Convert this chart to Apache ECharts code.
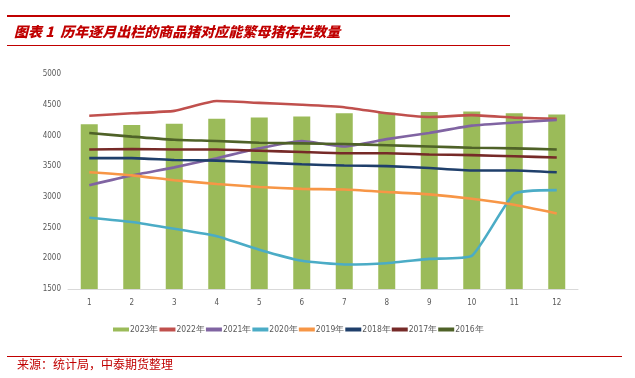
<!DOCTYPE html>
<html>
<head>
<meta charset="utf-8">
<script src="https://cdn.jsdelivr.net/npm/echarts@6/dist/echarts.min.js"></script>
<style>
  html, body { margin: 0; padding: 0; background: #fff; }
  #chart { width: 635px; height: 378px; }
</style>
</head>
<body>
<div id="chart"></div>
<script>
var months = ['1','2','3','4','5','6','7','8','9','10','11','12'];
var y2023 = [4180, 4170, 4190, 4270, 4290, 4310, 4360, 4370, 4380, 4390, 4360, 4340];
var y2022 = [4320, 4360, 4400, 4560, 4530, 4500, 4460, 4360, 4300, 4330, 4290, 4270];
var y2021 = [3190, 3350, 3480, 3630, 3790, 3910, 3820, 3940, 4040, 4160, 4210, 4250];
var y2020 = [2660, 2590, 2480, 2360, 2140, 1960, 1900, 1920, 1990, 2040, 3050, 3110];
var y2019 = [3400, 3350, 3270, 3210, 3160, 3130, 3120, 3080, 3040, 2970, 2870, 2730];
var y2018 = [3630, 3630, 3600, 3590, 3560, 3530, 3510, 3500, 3470, 3430, 3430, 3400];
var y2017 = [3770, 3780, 3770, 3770, 3750, 3730, 3710, 3710, 3690, 3680, 3660, 3640];
var y2016 = [4040, 3980, 3930, 3910, 3880, 3870, 3860, 3840, 3820, 3800, 3790, 3770];

var lineSeries = [
  ['2022年', y2022, '#C0504D'],
  ['2021年', y2021, '#8064A2'],
  ['2020年', y2020, '#4BACC6'],
  ['2019年', y2019, '#F79646'],
  ['2018年', y2018, '#1F3F6B'],
  ['2017年', y2017, '#762A28'],
  ['2016年', y2016, '#4F6228']
];

var chart = echarts.init(document.getElementById('chart'));
var axisFont = '"Liberation Sans Narrow", "DejaVu Sans Condensed", sans-serif';

var series = [{
  name: '2023年',
  type: 'bar',
  data: y2023,
  barWidth: 17,
  itemStyle: { color: '#9BBB59' },
  z: 1
}];
lineSeries.forEach(function (s) {
  series.push({
    name: s[0],
    type: 'line',
    data: s[1],
    smooth: 0.15,
    symbol: 'none',
    lineStyle: { color: s[2], width: 2.6 },
    itemStyle: { color: s[2] },
    z: 2
  });
});

var option = {
  backgroundColor: '#fff',
  animation: false,
  title: {
    text: '图表 1  历年逐月出栏的商品猪对应能繁母猪存栏数量',
    left: 14,
    top: 25,
    padding: 0,
    textStyle: {
      color: '#C00000',
      fontSize: 14,
      fontWeight: 900,
      fontStyle: 'italic',
      fontFamily: '"Noto Sans CJK SC", sans-serif'
    }
  },
  graphic: [
    { type: 'rect', shape: { x: 7, y: 15, width: 503, height: 2 }, style: { fill: '#C00000' } },
    { type: 'rect', shape: { x: 7, y: 45, width: 503, height: 1 }, style: { fill: '#C00000' } },
    { type: 'rect', shape: { x: 7, y: 356, width: 615, height: 1 }, style: { fill: '#C00000' } },
    {
      type: 'text', left: 17, top: 358,
      style: {
        text: '来源：统计局，中泰期货整理',
        fill: '#C00000',
        font: '12px "Noto Sans CJK SC", sans-serif'
      }
    }
  ],
  legend: {
    left: 113,
    top: 325,
    padding: 0,
    itemWidth: 16,
    itemHeight: 4,
    itemGap: 1,
    textStyle: { color: '#595959', fontSize: 8.5, fontFamily: axisFont, padding: [0, 0, 0, -4] },
    data: [
      { name: '2023年', icon: 'rect', itemHeight: 6 },
      { name: '2022年', icon: 'rect' },
      { name: '2021年', icon: 'rect' },
      { name: '2020年', icon: 'rect' },
      { name: '2019年', icon: 'rect' },
      { name: '2018年', icon: 'rect' },
      { name: '2017年', icon: 'rect' },
      { name: '2016年', icon: 'rect' }
    ]
  },
  grid: { left: 68, right: 57, top: 74, bottom: 89, containLabel: false },
  xAxis: {
    type: 'category',
    data: months,
    axisLine: { lineStyle: { color: '#D9D9D9', width: 1 } },
    axisTick: { show: false },
    axisLabel: { color: '#595959', fontSize: 8, fontFamily: axisFont, margin: 10 }
  },
  yAxis: {
    type: 'value',
    min: 1500,
    max: 5000,
    interval: 500,
    splitLine: { show: false },
    axisLine: { show: false },
    axisTick: { show: false },
    axisLabel: {
      color: '#595959', fontSize: 8, fontFamily: axisFont, margin: 7,
      formatter: function (v) { return String(v); }
    }
  },
  series: series
};
chart.setOption(option);
window.onresize = function () {
  chart.resize();
};
</script>
</body>
</html>
